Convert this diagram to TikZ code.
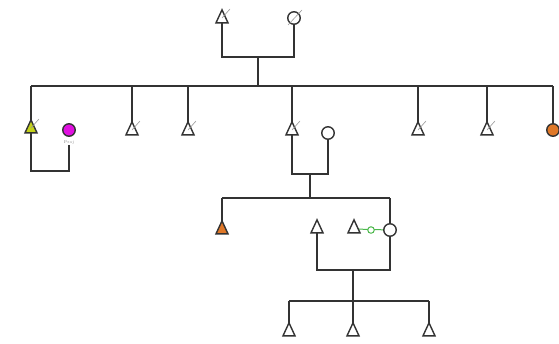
\documentclass[tikz,border=0pt]{standalone}
\usetikzlibrary{shapes.geometric,backgrounds}
\definecolor{ln}{HTML}{333333}
\definecolor{yg}{HTML}{C4D21A}
\definecolor{mag}{HTML}{E010E0}
\definecolor{org}{HTML}{E07828}
\definecolor{grn}{HTML}{4CB84C}
\tikzset{
  male/.style={isosceles triangle, shape border rotate=90, isosceles triangle stretches, minimum width=12pt, minimum height=13pt, inner sep=0pt, draw=ln, line width=1.4pt, fill=white},
  female/.style={circle, minimum size=12.5pt, inner sep=0pt, draw=ln, line width=1.4pt, fill=white},
  rel/.style={draw=ln, line width=1.1pt},
  dead/.style={draw=gray!80, line width=0.6pt},
  twin/.style={circle, minimum size=6.5pt, inner sep=0pt, draw=grn, line width=1pt, fill=white},
}
\begin{document}
\begin{tikzpicture}[x=1pt,y=-1pt]
\useasboundingbox (0,0) rectangle (559,343);
% generation 1
\node[male] (gf) at (222,19) {};
\node[female] (gm) at (294,18) {};
\coordinate (m1) at (258,57);
\coordinate (s1L) at (31,86);
\coordinate (s1R) at (553,86);
% generation 2
\node[male, fill=yg] (a1) at (31,129) {};
\node[female, fill=mag, draw=ln] (a1w) at (69,130) {};
\node[font=\fontsize{4}{4}\selectfont, text=gray, inner sep=0.5pt] (a1wl) at (69,142.5) {Proj};
\node[male] (a2) at (132,131) {};
\node[male] (a3) at (188,131) {};
\node[male] (a4) at (292,131) {};
\node[female] (a4w) at (328,133) {};
\node[male] (a5) at (418,131) {};
\node[male] (a6) at (487,131) {};
\node[female, fill=org] (a7) at (553,130) {};
\coordinate (m2) at (310,174);
\coordinate (ma1) at (50,171);
\coordinate (s2L) at (222,198);
\coordinate (s2R) at (390,198);
% generation 3
\node[male, fill=org] (b1) at (222,230) {};
\node[female] (b2) at (390,230) {};
\node[male] (b2h) at (317,229) {};
\node[male] (b3) at (354,229) {};
\node[twin] (tw) at (371,230) {};
\coordinate (m3) at (353,270);
\coordinate (s3L) at (289,301);
\coordinate (s3R) at (429,301);
% generation 4
\node[male] (c1) at (289,332) {};
\node[male] (c2) at (353,332) {};
\node[male] (c3) at (429,332) {};
% deceased slashes
\foreach \n in {gf,a1,a2,a3,a4,a5,a6}{
  \draw[dead] ([shift={(0,-1)}]\n.center) -- ([shift={(8,-10)}]\n.center);
}
\draw[dead] ([shift={(-6,7)}]gm.center) -- ([shift={(8,-8)}]gm.center);
\begin{pgfonlayer}{background}
% gen 1 couple
\draw[rel] (gf.center) -- (gf |- m1) -- (gm |- m1) -- (gm.center);
\draw[rel] (m1) -- (m1 |- s1L);
\draw[rel] (s1L) -- (s1R);
% gen 2 children
\foreach \n in {a2,a3,a4,a5,a6,a7}{ \draw[rel] (\n.center) -- (\n |- s1L); }
\draw[rel] (s1L) -- (a1 |- ma1) -- (a1w |- ma1) -- (a1wl.south);
% gen 2 couple
\draw[rel] (a4.center) -- (a4 |- m2) -- (a4w |- m2) -- (a4w.center);
\draw[rel] (m2) -- (m2 |- s2L);
\draw[rel] (s2L) -- (s2R);
\draw[rel] (b1.center) -- (s2L);
\draw[rel] (s2R) -- (b2.center);
% gen 3 couple
\draw[rel] (b2h.center) -- (b2h |- m3) -- (b2 |- m3) -- (b2.center);
\draw[draw=grn, line width=1pt] (b3.center) -- (b2.center);
\draw[rel] (m3) -- (m3 |- s3L);
\draw[rel] (s3L) -- (s3R);
\foreach \n in {c1,c2,c3}{ \draw[rel] (\n.center) -- (\n |- s3L); }
\end{pgfonlayer}
\end{tikzpicture}
\end{document}
